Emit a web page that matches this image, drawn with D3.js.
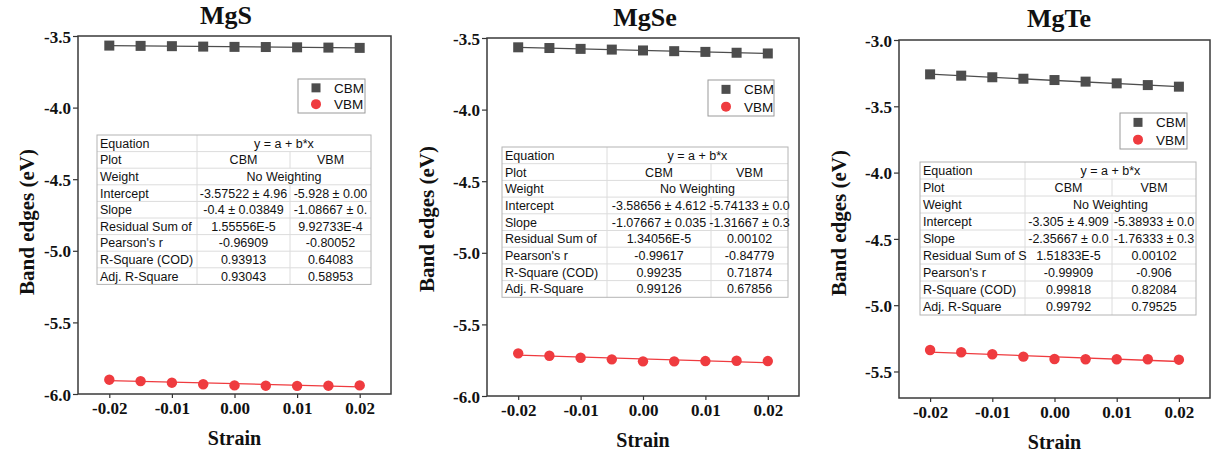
<!DOCTYPE html>
<html><head><meta charset="utf-8">
<script src="https://cdn.jsdelivr.net/npm/d3@7"></script>
<style>body{margin:0;background:#fff}</style>
</head><body><svg id="c" width="1217" height="458"></svg>
<script>
// ---------- data ----------
const strain = [-0.02, -0.015, -0.01, -0.005, 0, 0.005, 0.01, 0.015, 0.02];
const titles = ["MgS", "MgSe", "MgTe"];
const seriesNames = ["CBM", "VBM"];

const mgsCBM  = [-3.567, -3.569, -3.571, -3.574, -3.576, -3.577, -3.579, -3.581, -3.583];
const mgsVBM  = [-5.900, -5.910, -5.921, -5.932, -5.940, -5.942, -5.943, -5.942, -5.940];
const mgseCBM = [-3.565, -3.570, -3.576, -3.581, -3.587, -3.592, -3.597, -3.603, -3.608];
const mgseVBM = [-5.702, -5.719, -5.733, -5.744, -5.758, -5.758, -5.756, -5.754, -5.756];
const mgteCBM = [-3.259, -3.269, -3.281, -3.292, -3.302, -3.314, -3.327, -3.340, -3.352];
const mgteVBM = [-5.338, -5.355, -5.370, -5.388, -5.406, -5.408, -5.408, -5.408, -5.411];

// linear fit parameters [intercept, slope] from the tables
const mgsFitCBM  = [-3.57522, -0.4],     mgsFitVBM  = [-5.928, -1.08667];
const mgseFitCBM = [-3.58656, -1.07667], mgseFitVBM = [-5.74133, -1.31667];
const mgteFitCBM = [-3.305, -2.35667],   mgteFitVBM = [-5.38933, -1.76333];

const xTicks  = [-0.02, -0.01, 0, 0.01, 0.02];
const yTicksA = [-3.5, -4.0, -4.5, -5.0, -5.5, -6.0];
const yTicksB = [-3.0, -3.5, -4.0, -4.5, -5.0, -5.5];

const tableRowLabels1 = ["Equation", "Plot", "Weight", "Intercept", "Slope", "Residual Sum of", "Pearson's r", "R-Square (COD)", "Adj. R-Square"];
const tableRowLabels3 = ["Equation", "Plot", "Weight", "Intercept", "Slope", "Residual Sum of S", "Pearson's r", "R-Square (COD)", "Adj. R-Square"];
const equationText = "y = a + b*x";
const weightText = "No Weighting";
const mgsTabCBM  = ["-3.57522 ± 4.96", "-0.4 ± 0.03849", "1.55556E-5", "-0.96909", "0.93913", "0.93043"];
const mgsTabVBM  = ["-5.928 ± 0.00", "-1.08667 ± 0.", "9.92733E-4", "-0.80052", "0.64083", "0.58953"];
const mgseTabCBM = ["-3.58656 ± 4.612", "-1.07667 ± 0.035", "1.34056E-5", "-0.99617", "0.99235", "0.99126"];
const mgseTabVBM = ["-5.74133 ± 0.0", "-1.31667 ± 0.3", "0.00102", "-0.84779", "0.71874", "0.67856"];
const mgteTabCBM = ["-3.305 ± 4.909", "-2.35667 ± 0.0", "1.51833E-5", "-0.99909", "0.99818", "0.99792"];
const mgteTabVBM = ["-5.38933 ± 0.0", "-1.76333 ± 0.3", "0.00102", "-0.906", "0.82084", "0.79525"];

// ---------- layout ----------
const SERIF = "'Liberation Serif','Times New Roman',serif";
const SANS = "'Liberation Sans',Arial,sans-serif";
const cbmColor = "#4d4d4d", vbmColor = "#ef3b3f";

const panels = [
  {title: titles[0], cbm: mgsCBM, vbm: mgsVBM, fc: mgsFitCBM, fv: mgsFitVBM, yDom: [-6.0, -3.5], yTicks: yTicksA,
   x0: 78, x1: 391, y0: 36, y1: 394, titleX: 226, titleY: 24, ylabX: 27, ylabY: 222,
   leg: {x: 298, y: 79, w: 67, h: 34},
   tab: {x: 97, y: 135, c1: 197, c2: 290, x2: 371, rh: 16.6, labels: tableRowLabels1, cb: mgsTabCBM, vb: mgsTabVBM}},
  {title: titles[1], cbm: mgseCBM, vbm: mgseVBM, fc: mgseFitCBM, fv: mgseFitVBM, yDom: [-6.0, -3.5], yTicks: yTicksA,
   x0: 487, x1: 799, y0: 38, y1: 396, titleX: 645, titleY: 26, ylabX: 427, ylabY: 219,
   leg: {x: 708, y: 80, w: 66, h: 36},
   tab: {x: 502, y: 147, c1: 607, c2: 711, x2: 788, rh: 16.7, labels: tableRowLabels1, cb: mgseTabCBM, vb: mgseTabVBM}},
  {title: titles[2], cbm: mgteCBM, vbm: mgteVBM, fc: mgteFitCBM, fv: mgteFitVBM, yDom: [-5.7, -3.0], yTicks: yTicksB,
   x0: 899, x1: 1210, y0: 40, y1: 398, titleX: 1059, titleY: 27, ylabX: 839, ylabY: 223,
   leg: {x: 1120, y: 113, w: 67, h: 36},
   tab: {x: 920, y: 162, c1: 1025, c2: 1112, x2: 1196, rh: 17, labels: tableRowLabels3, cb: mgteTabCBM, vb: mgteTabVBM}}
];

const svg = d3.select("#c");
svg.append("rect").attr("width", 1217).attr("height", 458).attr("fill", "#fff");

panels.forEach((p, pi) => {
  const x = d3.scaleLinear().domain([-0.025, 0.025]).range([p.x0, p.x1]);
  const y = d3.scaleLinear().domain(p.yDom).range([p.y1, p.y0]);
  const g = svg.append("g");

  // axes
  const xAxis = d3.axisBottom(x).tickValues(xTicks).tickSize(4).tickFormat(d => d.toFixed(2));
  const yAxis = d3.axisLeft(y).tickValues(p.yTicks).tickSize(5).tickFormat(d => d.toFixed(1));
  const gx = g.append("g").attr("transform", `translate(0,${p.y1})`).call(xAxis);
  const gy = g.append("g").attr("transform", `translate(${p.x0},0)`).call(yAxis);
  [gx, gy].forEach(a => {
    a.select(".domain").remove();
    a.selectAll("line").attr("stroke", "#333").attr("stroke-width", 1.2);
    a.selectAll("text").attr("font-family", SERIF).attr("font-weight", "bold")
      .attr("font-size", 17).attr("fill", "#111");
  });
  gx.selectAll("text").attr("dy", null).attr("y", 20);
  gy.selectAll("text").attr("x", -7).attr("dy", "0.36em");

  // frame
  g.append("rect").attr("x", p.x0).attr("y", p.y0).attr("width", p.x1 - p.x0).attr("height", p.y1 - p.y0)
    .attr("fill", "none").attr("stroke", "#3a3a3a").attr("stroke-width", 1.5);

  // titles and axis labels
  g.append("text").attr("x", p.titleX).attr("y", p.titleY).attr("text-anchor", "middle")
    .attr("font-family", SERIF).attr("font-weight", "bold").attr("font-size", 26).attr("fill", "#111").text(p.title);
  g.append("text").attr("x", (p.x0 + p.x1) / 2).attr("y", p.y1 + 51).attr("text-anchor", "middle")
    .attr("font-family", SERIF).attr("font-weight", "bold").attr("font-size", 20).attr("fill", "#111").text("Strain");
  g.append("text").attr("transform", `translate(${p.ylabX + 7},${p.ylabY}) rotate(-90)`)
    .attr("text-anchor", "middle").attr("font-family", SERIF).attr("font-weight", "bold")
    .attr("font-size", 21).attr("fill", "#111").text("Band edges (eV)");

  // fit lines
  const xs = d3.extent(strain);
  const line = d3.line().x(d => x(d[0])).y(d => y(d[1]));
  g.append("path").datum(xs.map(v => [v, p.fc[0] + p.fc[1] * v])).attr("d", line)
    .attr("stroke", cbmColor).attr("stroke-width", 1.3).attr("fill", "none");
  g.append("path").datum(xs.map(v => [v, p.fv[0] + p.fv[1] * v])).attr("d", line)
    .attr("stroke", vbmColor).attr("stroke-width", 1.3).attr("fill", "none");

  // markers
  g.selectAll(".sq").data(strain.map((s, i) => [s, p.cbm[i]])).join("rect")
    .attr("x", d => x(d[0]) - 5).attr("y", d => y(d[1]) - 5).attr("width", 10).attr("height", 10)
    .attr("fill", cbmColor);
  g.selectAll(".ci").data(strain.map((s, i) => [s, p.vbm[i]])).join("circle")
    .attr("cx", d => x(d[0])).attr("cy", d => y(d[1])).attr("r", 5.2).attr("fill", vbmColor);

  // legend
  const L = p.leg;
  const lg = g.append("g");
  lg.append("rect").attr("x", L.x).attr("y", L.y).attr("width", L.w).attr("height", L.h)
    .attr("fill", "#fff").attr("stroke", "#9a9a9a").attr("stroke-width", 1);
  const ly = [L.y + L.h * 0.26, L.y + L.h * 0.74];
  lg.append("rect").attr("x", L.x + 18 - 4.5).attr("y", ly[0] - 4.5).attr("width", 9).attr("height", 9).attr("fill", cbmColor);
  lg.append("circle").attr("cx", L.x + 18).attr("cy", ly[1]).attr("r", 5).attr("fill", vbmColor);
  seriesNames.forEach((n, i) => {
    lg.append("text").attr("x", L.x + 36).attr("y", ly[i]).attr("dy", "0.36em")
      .attr("font-family", SANS).attr("font-size", 13.5).attr("fill", "#111").text(n);
  });

  // table
  const T = p.tab;
  const tg = g.append("g");
  const nRows = T.labels.length;
  const H = T.rh * nRows;
  tg.append("rect").attr("x", T.x).attr("y", T.y).attr("width", T.x2 - T.x).attr("height", H).attr("fill", "#fff");
  for (let r = 1; r < nRows; r++) {
    tg.append("line").attr("x1", T.x).attr("x2", T.x2).attr("y1", T.y + r * T.rh).attr("y2", T.y + r * T.rh)
      .attr("stroke", "#dcdcdc").attr("stroke-width", 1);
  }
  tg.append("line").attr("x1", T.c1).attr("x2", T.c1).attr("y1", T.y).attr("y2", T.y + H)
    .attr("stroke", "#dcdcdc").attr("stroke-width", 1);
  for (let r = 0; r < nRows; r++) {
    if (r === 0 || r === 2) continue;
    tg.append("line").attr("x1", T.c2).attr("x2", T.c2).attr("y1", T.y + r * T.rh).attr("y2", T.y + (r + 1) * T.rh)
      .attr("stroke", "#dcdcdc").attr("stroke-width", 1);
  }
  tg.append("rect").attr("x", T.x).attr("y", T.y).attr("width", T.x2 - T.x).attr("height", H)
    .attr("fill", "none").attr("stroke", "#b4b4b4").attr("stroke-width", 1);

  const txt = (tx, ty, s, anchor) => tg.append("text").attr("x", tx).attr("y", ty).attr("dy", "0.36em")
    .attr("text-anchor", anchor).attr("font-family", SANS).attr("font-size", 12.5).attr("fill", "#111").text(s);
  const mid1 = (T.c1 + T.c2) / 2, mid2 = (T.c2 + T.x2) / 2, midAll = (T.c1 + T.x2) / 2;
  T.labels.forEach((lab, r) => {
    const cy = T.y + (r + 0.5) * T.rh;
    txt(T.x + 3, cy, lab, "start");
    if (r === 0) txt(midAll, cy, equationText, "middle");
    else if (r === 1) { txt(mid1, cy, seriesNames[0], "middle"); txt(mid2, cy, seriesNames[1], "middle"); }
    else if (r === 2) txt(midAll, cy, weightText, "middle");
    else { txt(mid1, cy, T.cb[r - 3], "middle"); txt(mid2, cy, T.vb[r - 3], "middle"); }
  });
});
</script></body></html>
